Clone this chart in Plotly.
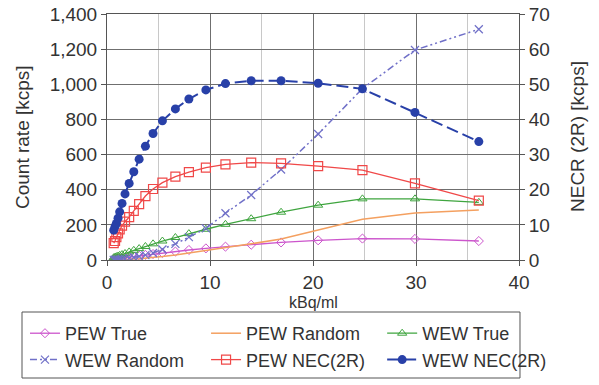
import plotly.graph_objects as go

# Activity concentration (kBq/ml)
activity = [0.65, 0.78, 0.91, 1.07, 1.23, 1.46, 1.75, 2.15, 2.6, 3.12, 3.73, 4.47,
            5.38, 6.64, 7.95, 9.6, 11.5, 14.0, 16.9, 20.5, 24.8, 29.9, 36.1]

# Count rates (kcps) - left axis
pew_true = [5, 6, 7, 8.3, 9.5, 11.5, 14, 17, 20, 24, 29, 34,
            40, 48, 57, 66, 76, 87, 100, 112, 122, 120, 108]
pew_random = [0.4, 0.5, 0.7, 0.9, 1.2, 1.6, 2.3, 3.5, 5, 7, 10, 14,
              20, 29, 40, 55, 70, 92, 120, 170, 232, 268, 285]
wew_true = [13, 16, 19, 22, 26, 31, 37, 46, 55, 65, 77, 92,
            108, 128, 150, 175, 203, 235, 272, 312, 348, 348, 328]
wew_random = [0.9, 1.3, 1.7, 2.4, 3.1, 4.4, 6.3, 9.5, 14, 20, 28, 40,
              60, 92, 130, 180, 266, 370, 515, 717, 975, 1195, 1313]

# NECR (kcps) - right axis
pew_nec = [4.8, 5.4, 6.5, 7.6, 8.7, 9.8, 10.9, 12.2, 14.0, 15.9, 18.2, 20.2,
           22.0, 23.7, 25.0, 26.3, 27.2, 27.7, 27.5, 26.7, 25.6, 21.8, 16.9]
wew_nec = [8.5, 9.5, 10.4, 11.9, 13.7, 16.1, 18.8, 21.8, 25.1, 28.7, 32.4, 36.0,
           39.6, 43.0, 45.8, 48.4, 50.2, 51.0, 51.0, 50.3, 48.7, 42.0, 33.7]

FONT = "Liberation Sans, Arial, sans-serif"
TXT = "#333333"

fig = go.Figure()
fig.add_trace(go.Scatter(x=activity, y=pew_true, name="PEW True", mode="lines+markers", legend="legend",
                         line=dict(color="#CC55CC", width=1.3),
                         marker=dict(symbol="diamond-open", size=7, color="#CC55CC", line=dict(width=1))))
fig.add_trace(go.Scatter(x=activity, y=pew_random, name="PEW Random", mode="lines", legend="legend2",
                         line=dict(color="#F4A060", width=1.5)))
fig.add_trace(go.Scatter(x=activity, y=wew_true, name="WEW True", mode="lines+markers", legend="legend3",
                         line=dict(color="#3FA53F", width=1.3),
                         marker=dict(symbol="triangle-up-open", size=8, color="#3FA53F", line=dict(width=1))))
fig.add_trace(go.Scatter(x=activity, y=wew_random, name="WEW Random", mode="lines+markers", legend="legend",
                         line=dict(color="#7070C8", width=1.5, dash="7px,3px,2px,3px,2px,3px"),
                         marker=dict(symbol="x-thin-open", size=8, color="#7070C8", line=dict(width=1.2, color="#7070C8"))))
fig.add_trace(go.Scatter(x=activity, y=pew_nec, name="PEW NEC(2R)", mode="lines+markers", yaxis="y2", legend="legend2",
                         line=dict(color="#F04848", width=1.3),
                         marker=dict(symbol="square-open", size=9, color="#F04848", line=dict(width=1.2))))
fig.add_trace(go.Scatter(x=activity, y=wew_nec, name="WEW NEC(2R)", mode="lines+markers", yaxis="y2", legend="legend3",
                         line=dict(color="#2840A8", width=2, dash="12px,5px"),
                         marker=dict(symbol="circle", size=9, color="#2840A8")))

leg_common = dict(orientation="v", xanchor="left", yanchor="top", y=0.1818,
                  xref="container", yref="container",
                  bgcolor="rgba(0,0,0,0)", borderwidth=0, tracegroupgap=0, itemwidth=30,
                  font=dict(size=18, family=FONT, color=TXT))

axis_common = dict(showline=True, linecolor="#555555", linewidth=1, ticks="outside", ticklen=5,
                   tickcolor="#555555", zeroline=False, automargin=False, tickfont=dict(size=19))

fig.update_layout(
    width=599, height=385,
    margin=dict(l=107, r=80, t=14, b=125, autoexpand=False),
    paper_bgcolor="white", plot_bgcolor="white",
    font=dict(family=FONT, size=18, color=TXT),
    showlegend=True,
    legend=dict(x=0.0417, **leg_common),
    legend2=dict(x=0.344, **leg_common),
    legend3=dict(x=0.638, **leg_common),
    shapes=[dict(type="rect", xref="paper", yref="paper",
                 x0=-0.2063, x1=1.0024, y0=-0.4797, y1=-0.2114,
                 line=dict(color="#555555", width=1), fillcolor="rgba(0,0,0,0)")],
    annotations=[
        dict(text="Count rate [kcps]", xref="paper", yref="paper", x=-0.2063, y=0.5,
             xanchor="center", yanchor="middle", textangle=-90, showarrow=False,
             font=dict(size=19, family=FONT, color=TXT)),
        dict(text="NECR (2R) [kcps]", xref="paper", yref="paper", x=1.1408, y=0.5,
             xanchor="center", yanchor="middle", textangle=-90, showarrow=False,
             font=dict(size=19, family=FONT, color=TXT)),
        dict(text="kBq/ml", xref="paper", yref="paper", x=0.5, y=-0.172,
             xanchor="center", yanchor="middle", showarrow=False,
             font=dict(size=16, family=FONT, color=TXT)),
    ],
    xaxis=dict(range=[0, 40], dtick=10, tick0=0, showgrid=True, gridcolor="#6f6f6f", gridwidth=1,
               minor=dict(dtick=5, showgrid=True, gridcolor="#c8c8c8", gridwidth=1, ticks=""),
               mirror=True, ticklabelstandoff=0, **axis_common),
    yaxis=dict(range=[0, 1400], dtick=200, tickformat=",d", showgrid=True, gridcolor="#6f6f6f",
               gridwidth=1, **axis_common),
    yaxis2=dict(range=[0, 70], dtick=10, overlaying="y", side="right", showgrid=False, **axis_common),
)

fig.write_html("out.html", config={"displayModeBar": False},
               post_script="document.body.style.margin='0';")
